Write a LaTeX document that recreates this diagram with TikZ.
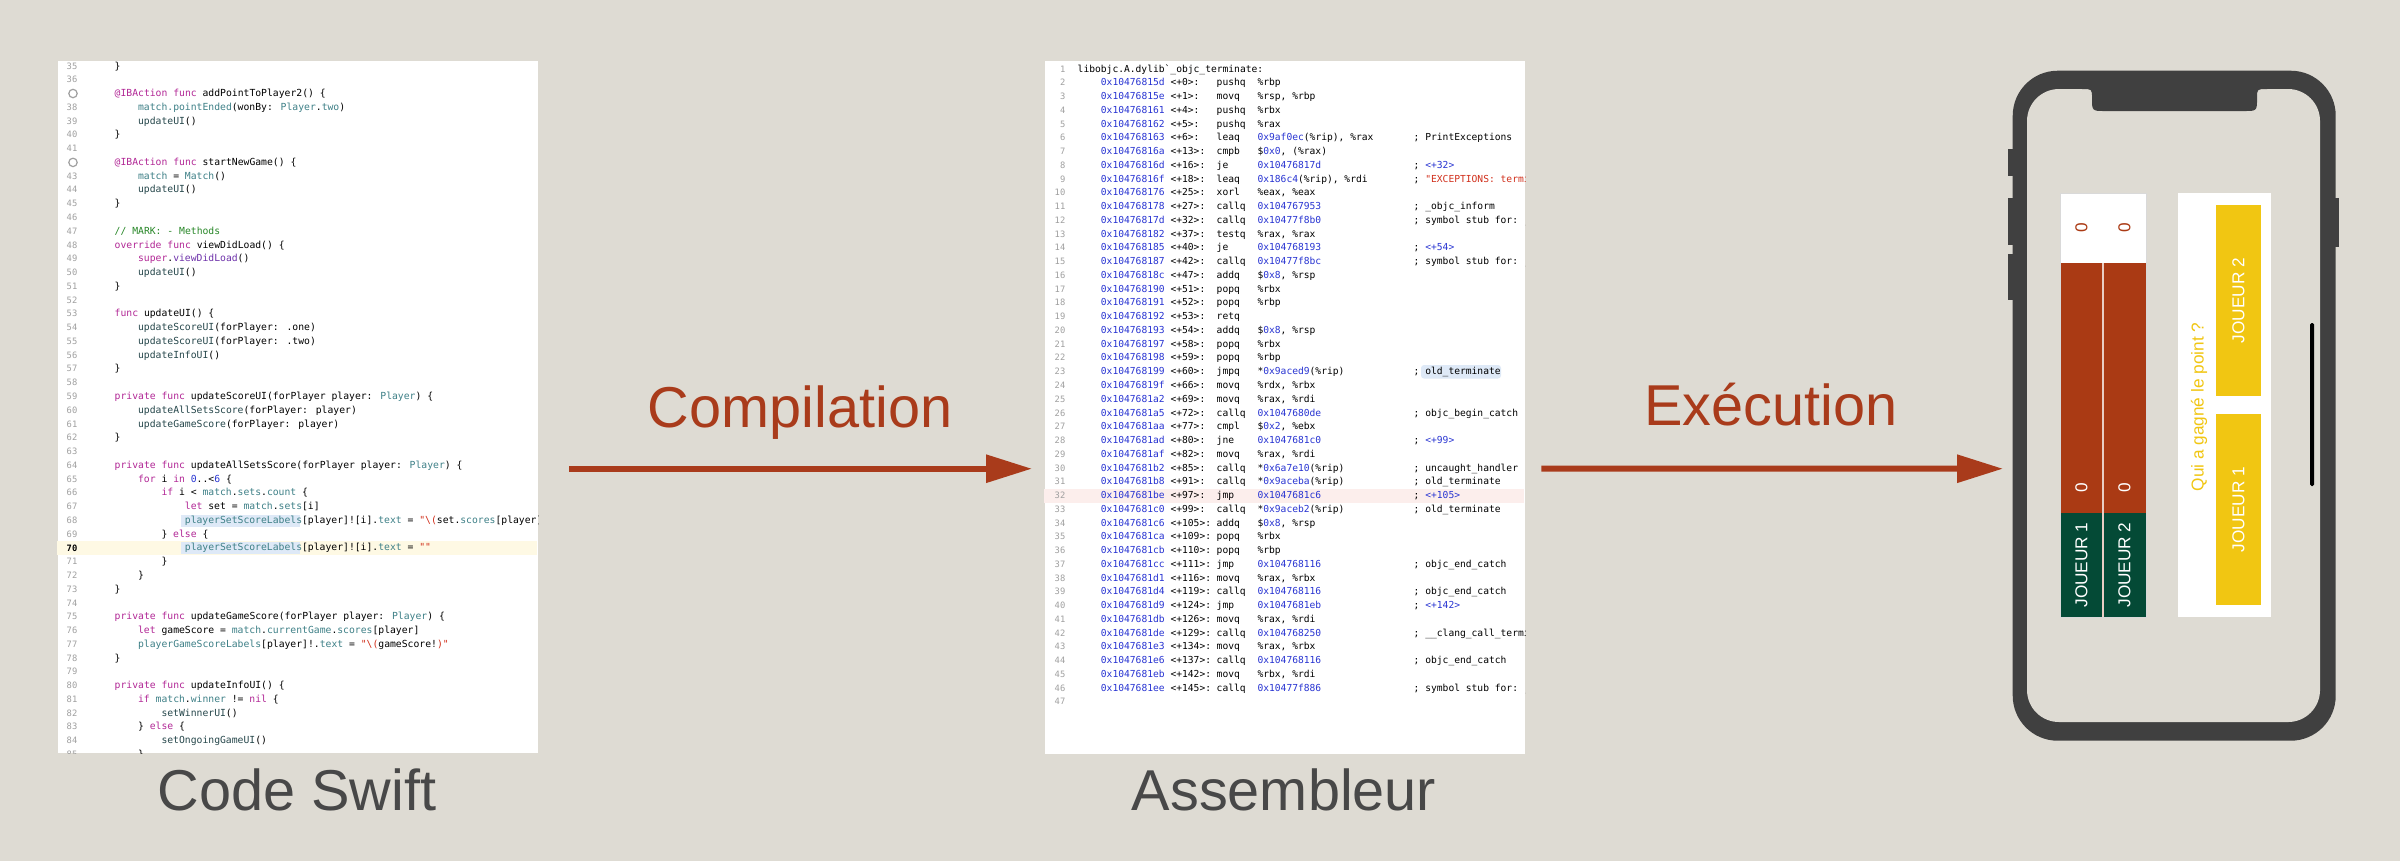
\documentclass[tikz,border=0pt]{standalone}
\usepackage{fontspec}
\setmainfont{Liberation Sans}
\newfontfamily\codefont{DejaVu Sans Mono}[Ligatures=TeXOff]
\usetikzlibrary{arrows.meta}

\definecolor{fond}{RGB}{222,219,211}
\definecolor{rouge}{RGB}{169,59,27}
\definecolor{gristitre}{RGB}{72,72,72}
\definecolor{corps}{RGB}{64,64,64}
\definecolor{rougeui}{RGB}{170,58,20}
\definecolor{vertui}{RGB}{4,74,54}
\definecolor{jauneui}{RGB}{241,198,18}
\definecolor{cmotcle}{RGB}{178,40,150}
\definecolor{ctyp}{RGB}{62,128,135}
\definecolor{cfct}{RGB}{38,71,75}
\definecolor{cnbr}{RGB}{40,52,210}
\definecolor{cchaine}{RGB}{209,47,27}
\definecolor{ccomm}{RGB}{40,135,40}
\definecolor{csys}{RGB}{110,50,170}
\definecolor{numgris}{RGB}{160,160,160}
\definecolor{jaunepale}{RGB}{254,249,228}
\definecolor{bleupale}{RGB}{222,233,247}
\definecolor{rosepale}{RGB}{252,238,236}

\newcommand\motcle[1]{\textcolor{cmotcle}{#1}}
\newcommand\typ[1]{\textcolor{ctyp}{#1}}
\newcommand\fct[1]{\textcolor{cfct}{#1}}
\newcommand\nbr[1]{\textcolor{cnbr}{#1}}
\newcommand\chaine[1]{\textcolor{cchaine}{#1}}
\newcommand\comm[1]{\textcolor{ccomm}{#1}}
\newcommand\sys[1]{\textcolor{csys}{#1}}

\tikzset{
  ligcode/.style={anchor=base west, inner sep=0pt, font=\codefont\fontsize{2.74pt}{3.9pt}\selectfont},
  ligswift/.style={ligcode, font=\codefont\fontsize{2.77pt}{3.9pt}\selectfont},
  numligne/.style={anchor=base east, inner sep=0pt, text=numgris, font=\codefont\fontsize{2.5pt}{3.9pt}\selectfont},
  panneau/.style={fill=white, inner sep=0pt, anchor=north west},
  fleche/.style={draw=rouge, line width=0.6mm, -{Triangle[length=4.6mm,width=2.7mm]}},
  etiquette/.style={anchor=base, text=rouge, font=\fontsize{16.4pt}{19pt}\selectfont},
  titre/.style={anchor=base, text=gristitre, font=\fontsize{16.4pt}{19pt}\selectfont},
  texteui/.style={inner sep=0pt, rotate=90, font=\fontsize{4.9pt}{6pt}\selectfont},
}

% une ligne de Swift : numero, indentation, texte
\newcommand\ligswift[3]{\node[ligswift] (s#1) at ({90.6+23.4*#2},{69+(#1-35)*13.77}) {#3};}
% une ligne d'assembleur : numero, adresse, decalage, instruction, operandes, commentaire
\newcommand\ligasm[6]{%
  \node[ligcode] (ad#1) at (1100.2,{72+(#1-1)*13.76}) {\nbr{0x#2}};
  \node[ligcode] (of#1) at (1169.8,{72+(#1-1)*13.76}) {<#3>:};
  \node[ligcode] (in#1) at (1216,{72+(#1-1)*13.76}) {#4};
  \node[ligcode] (op#1) at (1256.8,{72+(#1-1)*13.76}) {#5};
  \node[ligcode] (cm#1) at (1413,{72+(#1-1)*13.76}) {#6};}

\begin{document}
\begin{tikzpicture}[x=0.1mm, y=-0.1mm]
  \useasboundingbox (0,0) rectangle (2400,861);
  \fill[fond] (0,0) rectangle (2400,861);

  % les deux captures
  \node[panneau, minimum width=48mm, minimum height=69.2mm] (swift) at (57,60) {};
  \node[panneau, minimum width=48mm, minimum height=69.3mm] (asm) at (1044,60) {};

  % code Swift
  \begin{scope}
    \clip (swift.north west) rectangle (swift.south east);
    \fill[jaunepale] (57,541.1) rectangle (537,554.9);
    \fill[bleupale] (181,514.5) rectangle (300,526.5);
    \fill[bleupale] (181,542) rectangle (300,554);
    \foreach \i in {35,36,38,39,40,41} \node[numligne] (n\i) at (78,{69+(\i-35)*13.77}) {\i};
    \foreach \i in {43,...,69} \node[numligne] (n\i) at (78,{69+(\i-35)*13.77}) {\i};
    \foreach \i in {71,...,85} \node[numligne] (n\i) at (78,{69+(\i-35)*13.77}) {\i};
    \node[numligne, text=black, font=\codefont\bfseries\fontsize{2.5pt}{3.9pt}\selectfont] (n70) at (78,551) {70};
    \draw[numgris, line width=0.12mm] (73,93.5) circle[radius=0.42mm];
    \draw[numgris, line width=0.12mm] (73,162.4) circle[radius=0.42mm];
    \ligswift{35}{1}{\}}
    \ligswift{37}{1}{\motcle{@IBAction func} addPointToPlayer2() \{}
    \ligswift{38}{2}{\typ{match.pointEnded}(wonBy: \typ{Player}.\typ{two})}
    \ligswift{39}{2}{\fct{updateUI}()}
    \ligswift{40}{1}{\}}
    \ligswift{42}{1}{\motcle{@IBAction func} startNewGame() \{}
    \ligswift{43}{2}{\typ{match} = \typ{Match}()}
    \ligswift{44}{2}{\fct{updateUI}()}
    \ligswift{45}{1}{\}}
    \ligswift{47}{1}{\comm{// MARK: - Methods}}
    \ligswift{48}{1}{\motcle{override func} viewDidLoad() \{}
    \ligswift{49}{2}{\motcle{super}.\sys{viewDidLoad}()}
    \ligswift{50}{2}{\fct{updateUI}()}
    \ligswift{51}{1}{\}}
    \ligswift{53}{1}{\motcle{func} updateUI() \{}
    \ligswift{54}{2}{\fct{updateScoreUI}(forPlayer: .one)}
    \ligswift{55}{2}{\fct{updateScoreUI}(forPlayer: .two)}
    \ligswift{56}{2}{\fct{updateInfoUI}()}
    \ligswift{57}{1}{\}}
    \ligswift{59}{1}{\motcle{private func} updateScoreUI(forPlayer player: \typ{Player}) \{}
    \ligswift{60}{2}{\fct{updateAllSetsScore}(forPlayer: player)}
    \ligswift{61}{2}{\fct{updateGameScore}(forPlayer: player)}
    \ligswift{62}{1}{\}}
    \ligswift{64}{1}{\motcle{private func} updateAllSetsScore(forPlayer player: \typ{Player}) \{}
    \ligswift{65}{2}{\motcle{for} i \motcle{in} \nbr{0}..<\nbr{6} \{}
    \ligswift{66}{3}{\motcle{if} i < \typ{match}.\typ{sets}.\typ{count} \{}
    \ligswift{67}{4}{\motcle{let} set = \typ{match}.\typ{sets}[i]}
    \ligswift{68}{4}{\typ{playerSetScoreLabels}[player]![i].\typ{text} = \chaine{"\textbackslash(}set.\typ{scores}[player]!\chaine{)"}}
    \ligswift{69}{3}{\} \motcle{else} \{}
    \ligswift{70}{4}{\typ{playerSetScoreLabels}[player]![i].\typ{text} = \chaine{""}}
    \ligswift{71}{3}{\}}
    \ligswift{72}{2}{\}}
    \ligswift{73}{1}{\}}
    \ligswift{75}{1}{\motcle{private func} updateGameScore(forPlayer player: \typ{Player}) \{}
    \ligswift{76}{2}{\motcle{let} gameScore = \typ{match}.\typ{currentGame}.\typ{scores}[player]}
    \ligswift{77}{2}{\typ{playerGameScoreLabels}[player]!.\typ{text} = \chaine{"\textbackslash(}gameScore!\chaine{)"}}
    \ligswift{78}{1}{\}}
    \ligswift{80}{1}{\motcle{private func} updateInfoUI() \{}
    \ligswift{81}{2}{\motcle{if} \typ{match}.\typ{winner} != \motcle{nil} \{}
    \ligswift{82}{3}{\fct{setWinnerUI}()}
    \ligswift{83}{2}{\} \motcle{else} \{}
    \ligswift{84}{3}{\fct{setOngoingGameUI}()}
    \ligswift{85}{2}{\}}
  \end{scope}

  % assembleur
  \begin{scope}
    \clip (asm.north west) rectangle (asm.south east);
    \fill[rosepale] (1044,488.7) rectangle (1524,502.5);
    \fill[bleupale, rounded corners=0.3mm] (1421,365) rectangle (1501,378.5);
    \foreach \i in {1,...,47} \node[numligne] (an\i) at (1066,{72+(\i-1)*13.76}) {\i};
    \node[ligcode] (ad1) at (1077,72) {libobjc.A.dylib`\_objc\_terminate:};
    \ligasm{2}{10476815d}{+0}{pushq}{\%rbp}{}
    \ligasm{3}{10476815e}{+1}{movq}{\%rsp, \%rbp}{}
    \ligasm{4}{104768161}{+4}{pushq}{\%rbx}{}
    \ligasm{5}{104768162}{+5}{pushq}{\%rax}{}
    \ligasm{6}{104768163}{+6}{leaq}{\nbr{0x9af0ec}(\%rip), \%rax}{; PrintExceptions}
    \ligasm{7}{10476816a}{+13}{cmpb}{\$\nbr{0x0}, (\%rax)}{}
    \ligasm{8}{10476816d}{+16}{je}{\nbr{0x10476817d}}{; \nbr{<+32>}}
    \ligasm{9}{10476816f}{+18}{leaq}{\nbr{0x186c4}(\%rip), \%rdi}{; \chaine{"EXCEPTIONS: termi}}
    \ligasm{10}{104768176}{+25}{xorl}{\%eax, \%eax}{}
    \ligasm{11}{104768178}{+27}{callq}{\nbr{0x104767953}}{; \_objc\_inform}
    \ligasm{12}{10476817d}{+32}{callq}{\nbr{0x10477f8b0}}{; symbol stub for: \_}
    \ligasm{13}{104768182}{+37}{testq}{\%rax, \%rax}{}
    \ligasm{14}{104768185}{+40}{je}{\nbr{0x104768193}}{; \nbr{<+54>}}
    \ligasm{15}{104768187}{+42}{callq}{\nbr{0x10477f8bc}}{; symbol stub for: \_}
    \ligasm{16}{10476818c}{+47}{addq}{\$\nbr{0x8}, \%rsp}{}
    \ligasm{17}{104768190}{+51}{popq}{\%rbx}{}
    \ligasm{18}{104768191}{+52}{popq}{\%rbp}{}
    \ligasm{19}{104768192}{+53}{retq}{}{}
    \ligasm{20}{104768193}{+54}{addq}{\$\nbr{0x8}, \%rsp}{}
    \ligasm{21}{104768197}{+58}{popq}{\%rbx}{}
    \ligasm{22}{104768198}{+59}{popq}{\%rbp}{}
    \ligasm{23}{104768199}{+60}{jmpq}{*\nbr{0x9aced9}(\%rip)}{; old\_terminate}
    \ligasm{24}{10476819f}{+66}{movq}{\%rdx, \%rbx}{}
    \ligasm{25}{1047681a2}{+69}{movq}{\%rax, \%rdi}{}
    \ligasm{26}{1047681a5}{+72}{callq}{\nbr{0x1047680de}}{; objc\_begin\_catch}
    \ligasm{27}{1047681aa}{+77}{cmpl}{\$\nbr{0x2}, \%ebx}{}
    \ligasm{28}{1047681ad}{+80}{jne}{\nbr{0x1047681c0}}{; \nbr{<+99>}}
    \ligasm{29}{1047681af}{+82}{movq}{\%rax, \%rdi}{}
    \ligasm{30}{1047681b2}{+85}{callq}{*\nbr{0x6a7e10}(\%rip)}{; uncaught\_handler}
    \ligasm{31}{1047681b8}{+91}{callq}{*\nbr{0x9aceba}(\%rip)}{; old\_terminate}
    \ligasm{32}{1047681be}{+97}{jmp}{\nbr{0x1047681c6}}{; \nbr{<+105>}}
    \ligasm{33}{1047681c0}{+99}{callq}{*\nbr{0x9aceb2}(\%rip)}{; old\_terminate}
    \ligasm{34}{1047681c6}{+105}{addq}{\$\nbr{0x8}, \%rsp}{}
    \ligasm{35}{1047681ca}{+109}{popq}{\%rbx}{}
    \ligasm{36}{1047681cb}{+110}{popq}{\%rbp}{}
    \ligasm{37}{1047681cc}{+111}{jmp}{\nbr{0x104768116}}{; objc\_end\_catch}
    \ligasm{38}{1047681d1}{+116}{movq}{\%rax, \%rbx}{}
    \ligasm{39}{1047681d4}{+119}{callq}{\nbr{0x104768116}}{; objc\_end\_catch}
    \ligasm{40}{1047681d9}{+124}{jmp}{\nbr{0x1047681eb}}{; \nbr{<+142>}}
    \ligasm{41}{1047681db}{+126}{movq}{\%rax, \%rdi}{}
    \ligasm{42}{1047681de}{+129}{callq}{\nbr{0x104768250}}{; \_\_clang\_call\_termi}
    \ligasm{43}{1047681e3}{+134}{movq}{\%rax, \%rbx}{}
    \ligasm{44}{1047681e6}{+137}{callq}{\nbr{0x104768116}}{; objc\_end\_catch}
    \ligasm{45}{1047681eb}{+142}{movq}{\%rbx, \%rdi}{}
    \ligasm{46}{1047681ee}{+145}{callq}{\nbr{0x10477f886}}{; symbol stub for: \_}
  \end{scope}

  % le telephone
  \fill[corps] (2008,149) rectangle (2013,176);
  \fill[corps] (2008,198) rectangle (2013,245);
  \fill[corps] (2008,254) rectangle (2013,300);
  \fill[corps] (2334,198) rectangle (2339,247);
  \node[fill=corps, rounded corners=4.5mm, minimum width=32.3mm, minimum height=67mm,
        anchor=north west, inner sep=0pt] (phone) at (2012,70) {};
  \fill[fond, rounded corners=3.2mm] (2027,89) rectangle (2320,722);
  \fill[corps] (2082,85) -- (2082,89) .. controls (2092,89) .. (2092,98)
    .. controls (2092,111) .. (2105,111) -- (2244,111) .. controls (2257,111) .. (2257,98)
    .. controls (2257,89) .. (2267,89) -- (2267,85) -- cycle;
  \fill[black, rounded corners=0.15mm] (2310,323) rectangle (2314,486);

  % tableau des scores
  \fill[white] (2060,193) rectangle (2146,263);
  \fill[rougeui] (2060,263) rectangle (2146,513);
  \fill[vertui] (2060,513) rectangle (2146,617);
  \draw[white!75!rougeui, line width=0.12mm] (2103,263) -- (2103,617);
  \draw[black!15, line width=0.1mm] (2060,193) rectangle (2146,617);
  \node[texteui, text=rougeui] (z1) at (2081.5,228) {0};
  \node[texteui, text=rougeui] (z2) at (2124.5,228) {0};
  \node[texteui, text=white] (j1) at (2081.5,488) {0};
  \node[texteui, text=white] (j2) at (2124.5,488) {0};
  \node[texteui, text=white] (p1) at (2081.5,565) {JOUEUR 1};
  \node[texteui, text=white] (p2) at (2124.5,565) {JOUEUR 2};

  % choix du gagnant
  \fill[white] (2178,193) rectangle (2271,617);
  \fill[jauneui] (2216,205) rectangle (2261,396);
  \fill[jauneui] (2216,414) rectangle (2261,605);
  \node[texteui, text=jauneui] (question) at (2199,407) {Qui a gagné le point ?};
  \node[texteui, text=white] (b2) at (2238.5,300.5) {JOUEUR 2};
  \node[texteui, text=white] (b1) at (2238.5,509.5) {JOUEUR 1};

  % fleches
  \draw[fleche] ([xshift=3.1mm,yshift=-6.2mm]swift.east) -- ([xshift=-1.2mm,yshift=-6.15mm]asm.west);
  \draw[fleche] ([xshift=1.6mm,yshift=-6.15mm]asm.east) -- ([xshift=-0.9mm,yshift=-6.3mm]phone.west);
  \node[etiquette] (compil) at (800,427) {Compilation};
  \node[etiquette] (exec) at (1771,425) {Exécution};
  \node[titre] (tswift) at (297,810) {Code Swift};
  \node[titre] (tasm) at (1284,810) {Assembleur};
\end{tikzpicture}
\end{document}
